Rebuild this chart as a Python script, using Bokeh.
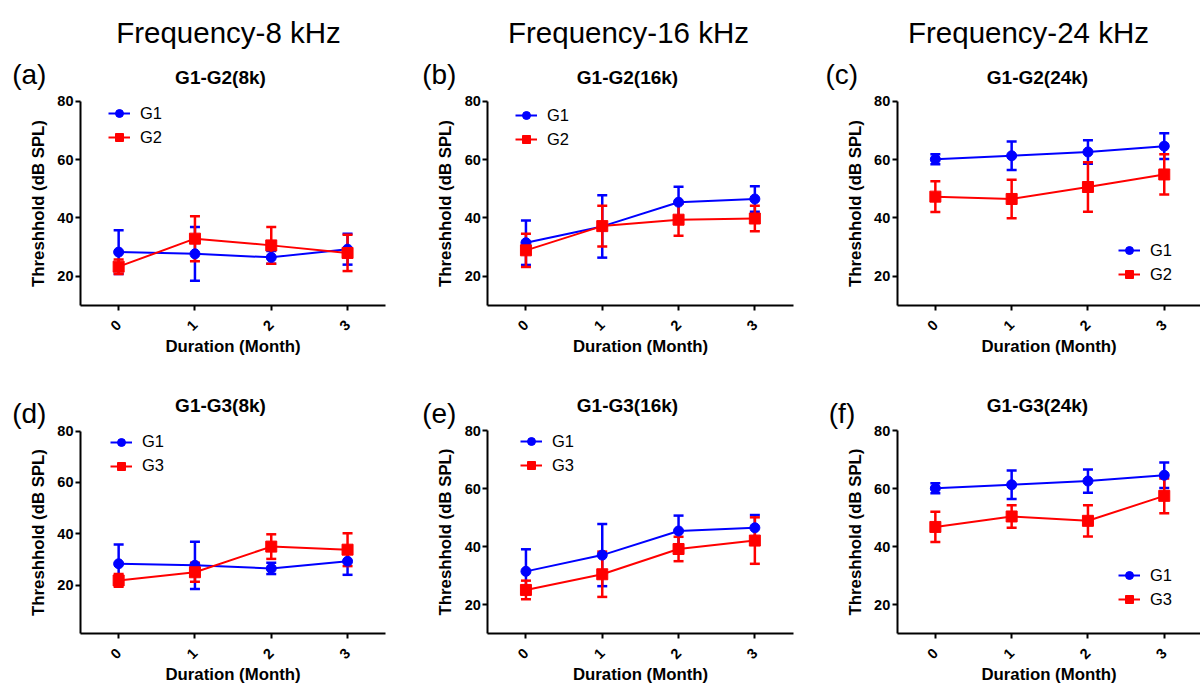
import math
from bokeh.plotting import figure
from bokeh.models import (ColumnDataSource, Whisker, TeeHead, FixedTicker, Legend,
                          LegendItem, Label, Range1d)
from bokeh.layouts import column, row
from bokeh.embed import file_html
from bokeh.resources import INLINE

# ---------------- data ----------------
months = [0, 1, 2, 3]
month_labels = ["0", "1", "2", "3"]
y_ticks = [20, 40, 60, 80]

g1_8k = [28.3, 27.7, 26.5, 29.3]
g1_8k_sd = [7.5, 9.2, 2.2, 5.3]
g1_16k = [31.5, 37.1, 45.4, 46.5]
g1_16k_sd = [7.6, 10.7, 5.3, 4.4]
g1_24k = [60.1, 61.3, 62.6, 64.6]
g1_24k_sd = [1.7, 4.9, 4.0, 4.4]

g2_8k = [23.3, 32.9, 30.6, 28.0]
g2_8k_sd = [2.5, 7.7, 6.3, 6.2]
g2_16k = [28.9, 37.2, 39.4, 39.8]
g2_16k_sd = [5.7, 7.0, 5.5, 4.4]
g2_24k = [47.3, 46.5, 50.6, 54.9]
g2_24k_sd = [5.3, 6.6, 8.5, 6.9]

g3_8k = [21.8, 25.0, 35.0, 33.8]
g3_8k_sd = [2.5, 3.7, 4.8, 6.4]
g3_16k = [25.1, 30.5, 39.2, 42.1]
g3_16k_sd = [3.2, 7.8, 4.2, 8.0]
g3_24k = [46.8, 50.4, 48.9, 57.5]
g3_24k_sd = [5.2, 3.9, 5.4, 6.0]

headers = ["Frequency-8 kHz", "Frequency-16 kHz", "Frequency-24 kHz"]
panel_letters = ["(a)", "(b)", "(c)", "(d)", "(e)", "(f)"]
subtitles = ["G1-G2(8k)", "G1-G2(16k)", "G1-G2(24k)",
             "G1-G3(8k)", "G1-G3(16k)", "G1-G3(24k)"]

FONT = "Liberation Sans"
BLUE = "#0000FF"
RED = "#FF0000"

# ---------------- layout (pixels inside each cell) ----------------
CELL_W = 400
ROW_H = [376, 312]
UNIT_X = 76.3                      # pixels per month
axis_px = [80, 87.3, 96.7]         # x pixel of the y axis in each column
header_x = 228
header_base = 31.7
sub_x = [220, 227, 237]
sub_base = [77, 28.5]
letter_x = [[11.7, 21.7, 25], [11.7, 21.7, 28.3]]
letter_base = [73.5, 36.5]

panels = [
    dict(r=0, c=0, a=(g1_8k, g1_8k_sd), b=(g2_8k, g2_8k_sd), bn="G2", ymin=10,
         top=100.7, bot=305, leg=(108, 228.7)),
    dict(r=0, c=1, a=(g1_16k, g1_16k_sd), b=(g2_16k, g2_16k_sd), bn="G2", ymin=10,
         top=100.7, bot=305, leg=(115, 227)),
    dict(r=0, c=2, a=(g1_24k, g1_24k_sd), b=(g2_24k, g2_24k_sd), bn="G2", ymin=10,
         top=100.7, bot=305, leg=(318, 92)),
    dict(r=1, c=0, a=(g1_8k, g1_8k_sd), b=(g3_8k, g3_8k_sd), bn="G3", ymin=1,
         top=54.7, bot=257.3, leg=(110, 212.3)),
    dict(r=1, c=1, a=(g1_16k, g1_16k_sd), b=(g3_16k, g3_16k_sd), bn="G3", ymin=10,
         top=54, bot=257.3, leg=(120, 213)),
    dict(r=1, c=2, a=(g1_24k, g1_24k_sd), b=(g3_24k, g3_24k_sd), bn="G3", ymin=10,
         top=54, bot=257.3, leg=(318, 79)),
]


def add_series(p, vals, sds, color, marker, size):
    src = ColumnDataSource(dict(
        x=months, y=vals,
        upper=[v + s for v, s in zip(vals, sds)],
        lower=[v - s for v, s in zip(vals, sds)],
    ))
    w = Whisker(source=src, base="x", upper="upper", lower="lower",
                line_color=color, line_width=2.5,
                upper_head=TeeHead(size=10, line_color=color, line_width=2.5),
                lower_head=TeeHead(size=10, line_color=color, line_width=2.5))
    p.add_layout(w)
    ln = p.line("x", "y", source=src, line_color=color, line_width=2)
    sc = p.scatter("x", "y", source=src, marker=marker, size=size,
                   fill_color=color, line_color=color)
    return [ln, sc]


def text_label(x, y_from_top, H, text, size, style="normal", align="left"):
    return Label(x=x, y=H - y_from_top, x_units="screen", y_units="screen",
                 text=text, text_align=align, text_baseline="alphabetic",
                 text_font=FONT, text_font_size=size, text_font_style=style,
                 text_color="black")


figs = [[], []]
for i, spec in enumerate(panels):
    r, c = spec["r"], spec["c"]
    H = ROW_H[r]
    W = CELL_W
    # x range: y axis (x = -0.5) sits at axis_px[c]
    x0 = -0.5 - axis_px[c] / UNIT_X
    x1 = x0 + W / UNIT_X
    # y range: 80 at spec["top"], ymin at spec["bot"]
    uy = (spec["bot"] - spec["top"]) / (80 - spec["ymin"])
    y1 = 80 + spec["top"] / uy
    y0 = y1 - H / uy

    p = figure(width=W, height=H, x_range=Range1d(x0, x1), y_range=Range1d(y0, y1),
               output_backend="svg", toolbar_location=None, min_border=0)
    p.outline_line_color = None
    p.grid.visible = False
    p.background_fill_color = "white"
    p.border_fill_color = "white"

    for ax in (p.xaxis[0], p.yaxis[0]):
        ax.axis_line_width = 2
        ax.axis_line_color = "black"
        ax.major_tick_line_width = 2
        ax.major_tick_line_color = "black"
        ax.major_tick_out = 5
        ax.major_tick_in = 0
        ax.minor_tick_line_color = None
        ax.major_label_text_font = FONT
        ax.major_label_text_font_style = "bold"
        ax.major_label_text_font_size = "14.5px"
        ax.major_label_text_color = "black"
        ax.axis_label_text_font = FONT
        ax.axis_label_text_font_style = "bold"
        ax.axis_label_text_font_size = "16.8px"
        ax.axis_label_text_color = "black"

    xa = p.xaxis[0]
    xa.fixed_location = spec["ymin"]
    xa.bounds = (-0.5, 3.5)
    xa.ticker = FixedTicker(ticks=months)
    xa.major_label_overrides = {m: l for m, l in zip(months, month_labels)}
    xa.major_label_orientation = math.pi / 4
    xa.major_label_standoff = 12
    xa.axis_label = "Duration (Month)"
    xa.axis_label_standoff = -1

    ya = p.yaxis[0]
    ya.fixed_location = -0.5
    ya.bounds = (spec["ymin"], 80)
    ya.ticker = FixedTicker(ticks=y_ticks)
    ya.major_label_standoff = 2
    ya.axis_label = "Threshhold (dB SPL)"
    ya.axis_label_standoff = 6

    ra = add_series(p, spec["a"][0], spec["a"][1], BLUE, "circle", 10)
    rb = add_series(p, spec["b"][0], spec["b"][1], RED, "square", 11)

    leg = Legend(items=[LegendItem(label="G1", renderers=ra),
                        LegendItem(label=spec["bn"], renderers=rb)],
                 location=spec["leg"], glyph_width=22, glyph_height=20,
                 label_height=20, label_standoff=10, spacing=4, padding=0,
                 margin=0, border_line_alpha=0, background_fill_alpha=0,
                 label_text_font=FONT, label_text_font_size="16.5px",
                 label_text_color="black")
    p.add_layout(leg)

    if r == 0:
        p.add_layout(text_label(header_x, header_base, H, headers[c], "29.5px", align="center"))
    p.add_layout(text_label(sub_x[c], sub_base[r], H, subtitles[i], "19px", "bold", "center"))
    p.add_layout(text_label(letter_x[r][c], letter_base[r], H, panel_letters[i], "28px"))
    figs[r].append(p)

layout = column(row(*figs[0]), row(*figs[1]))
open("out.html", "w").write(file_html(layout, INLINE))
